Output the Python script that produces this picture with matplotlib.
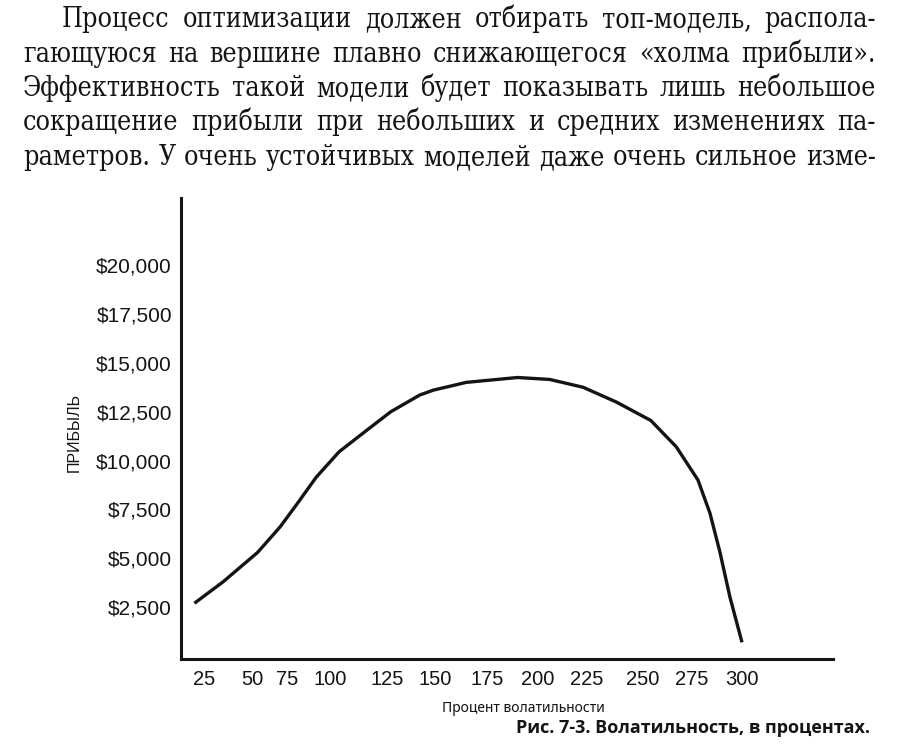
import numpy as np
import matplotlib
matplotlib.use("Agg")
import matplotlib.pyplot as plt
from matplotlib import font_manager

# Profit vs volatility percent
volatility = [20, 35, 54, 70, 81, 92, 104, 115, 127, 142, 149, 165, 190,
              206, 223, 238, 254, 267, 278, 284, 289, 294, 300]
profit = [2700, 3800, 5300, 6600, 7800, 9150, 10450, 11450, 12500, 13350,
          13600, 14000, 14250, 14150, 13750, 13000, 12050, 10700, 9000,
          7300, 5300, 3000, 700]

x_ticks = [25, 50, 75, 100, 125, 150, 175, 200, 225, 250, 275, 300]
y_ticks = [2500, 5000, 7500, 10000, 12500, 15000, 17500, 20000]
y_labels = ["$2,500", "$5,000", "$7,500", "$10,000", "$12,500",
            "$15,000", "$17,500", "$20,000"]

paragraph = [
    "Процесс оптимизации должен отбирать топ-модель, распола-",
    "гающуюся на вершине плавно снижающегося «холма прибыли».",
    "Эффективность такой модели будет показывать лишь небольшое",
    "сокращение прибыли при небольших и средних изменениях па-",
    "раметров. У очень устойчивых моделей даже очень сильное изме-",
]
caption = "Рис. 7-3. Волатильность, в процентах."
x_title = "Процент волатильности"
y_title = "ПРИБЫЛЬ"

W, H = 906, 750
ink = "#141414"

fig = plt.figure(figsize=(W / 100, H / 100), dpi=100)
fig.patch.set_facecolor("white")

# the book's x labels are not evenly spaced, so use a piecewise scale
# (where each label sits along the axis, as a fraction of its length)
scale_vals = [13] + x_ticks + [345.5]
scale_frac = [0.0] + [(p - 181) / 652 for p in
                      [204, 252, 287, 330, 387, 435, 487, 538, 587, 643, 692, 742]] + [1.0]


def fwd(x):
    return np.interp(x, scale_vals, scale_frac)


def inv(f):
    return np.interp(f, scale_frac, scale_vals)


ax = fig.add_axes([181 / W, 1 - 659 / H, 652 / W, 461 / H])
ax.set_xscale("function", functions=(fwd, inv))
ax.plot(volatility, profit, color=ink, lw=2.4, solid_capstyle="butt",
        solid_joinstyle="round")
ax.set_xlim(13, 345.5)
ax.set_ylim(-153, 23434)

for s in ["top", "right"]:
    ax.spines[s].set_visible(False)
for s in ["left", "bottom"]:
    ax.spines[s].set_linewidth(2.2)
    ax.spines[s].set_color(ink)

ax.set_xticks(x_ticks)
ax.set_xticklabels([str(v) for v in x_ticks], fontsize=14.5,
                   family="Liberation Sans", color=ink)
ax.xaxis.set_minor_locator(matplotlib.ticker.NullLocator())
ax.set_yticks(y_ticks)
ax.set_yticklabels(y_labels, fontsize=15, family="Liberation Sans", color=ink)
ax.tick_params(axis="both", length=0)
ax.tick_params(axis="y", pad=6.5)
ax.tick_params(axis="x", pad=8)

fig.text(74.5 / W, 1 - 433 / H, y_title, rotation=90, ha="center", va="center",
         fontsize=11.5, family="Liberation Sans", color=ink)
fig.text(523 / W, 1 - 712 / H, x_title, ha="center", va="baseline",
         fontsize=10, family="Noto Sans", color=ink)
fig.text(870 / W, 1 - 733 / H, caption, ha="right", va="baseline",
         fontsize=13, family="Open Sans", weight="bold", color=ink)

# justified paragraph above the chart, word by word
r = fig.canvas.get_renderer()
right_edge = 876
serif = font_manager.FontProperties(family="DejaVu Serif", stretch="condensed")
if "Condensed" not in font_manager.findfont(serif):
    serif = font_manager.FontProperties(family="Liberation Serif")

# pick one size so that the fullest line just fits with normal spaces
ratio = 0
for i, line in enumerate(paragraph):
    left = 62 if i == 0 else 23
    t = fig.text(0, 0, line, fontproperties=serif, fontsize=18)
    ratio = max(ratio, t.get_window_extent(r).width / (right_edge - left))
    t.remove()
size = 18 / ratio * 0.99

for i, line in enumerate(paragraph):
    left = 62 if i == 0 else 23
    base = 27 + 34.5 * i
    words = line.split(" ")
    texts = [fig.text(0, 0, w, fontproperties=serif, fontsize=size,
                      color=ink, va="baseline") for w in words]
    widths = [t.get_window_extent(r).width for t in texts]
    gap = (right_edge - left - sum(widths)) / (len(words) - 1)
    x = left
    for t, w in zip(texts, widths):
        t.set_position((x / W, 1 - base / H))
        x += w + gap

fig.savefig("out.png", dpi=100, facecolor="white")
